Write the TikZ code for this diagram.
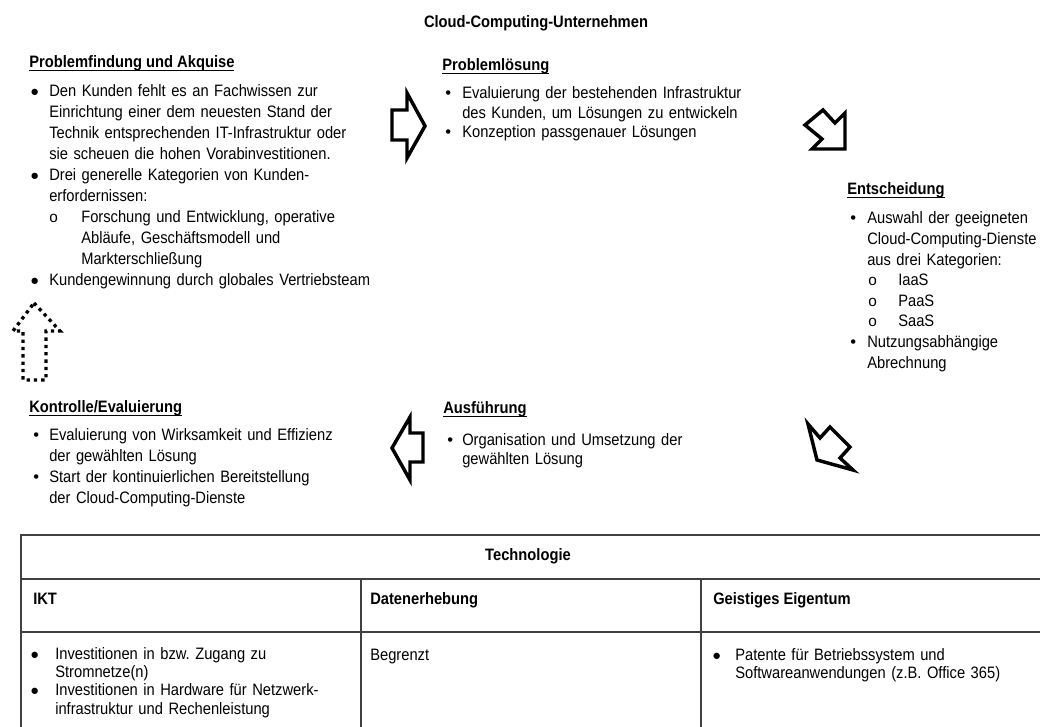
\documentclass[tikz,border=0pt]{standalone}
\usepackage{fontspec}
\setmainfont{Liberation Sans}[FakeStretch=0.89]
\newfontfamily\bulletfont{Liberation Sans}
\frenchspacing

% bullet lead-in: #1 text indent, #2 offset of the bullet, #3 bullet glyph
\newcommand\lstart[3]{\makebox[#1][l]{\hspace*{#2}#3}}
\newcommand\bigdot{{\bulletfont\fontsize{11pt}{11pt}\selectfont ●}}
\newcommand\smalldot{{\bulletfont •}}
\newcommand\ring{{\bulletfont\fontsize{11.5pt}{11pt}\selectfont o}}
% bold heading with a thin underline
\newcommand\ulbf[1]{\setbox0\hbox{\bfseries #1}\rlap{\rule[-2.4pt]{\wd0}{0.8pt}}\box0}

\tikzset{
  x=0.75pt, y=-0.75pt,
  heading/.style={anchor=base west, inner sep=0pt, font=\fontsize{12.4pt}{14pt}\selectfont},
  maintitle/.style={anchor=base, inner sep=0pt, font=\fontsize{12.4pt}{14pt}\selectfont\bfseries},
  colhead/.style={anchor=base west, inner sep=0pt, font=\fontsize{12.4pt}{14pt}\selectfont\bfseries},
  body/.style={anchor=base west, inner sep=0pt, align=left, text width=330pt},
  blockarrow/.style={draw=black, line width=2.6pt, line join=miter, miter limit=10},
  dotarrow/.style={draw=black, line width=2.5pt, dash pattern=on 2.5pt off 3pt},
  tblline/.style={draw=black!75, line width=1.1pt},
}

\begin{document}
\begin{tikzpicture}
\useasboundingbox (0,0) rectangle (1040,727);

% ---------- title ----------
\node[maintitle] (title) at (536,28) {Cloud-Computing-Unternehmen};

% ---------- phase 1 ----------
\node[heading] (h1) at (29,68) {\ulbf{Problemfindung und Akquise}};
\node[body, font=\fontsize{12.4pt}{15.75pt}\selectfont] (b1) at (29,97) {%
\lstart{15pt}{0.75pt}{\bigdot}Den Kunden fehlt es an Fachwissen zur\\
\hspace*{15pt}Einrichtung einer dem neuesten Stand der\\
\hspace*{15pt}Technik entsprechenden IT-Infrastruktur oder\\
\hspace*{15pt}sie scheuen die hohen Vorabinvestitionen.\\
\lstart{15pt}{0.75pt}{\bigdot}Drei generelle Kategorien von Kunden-\\
\hspace*{15pt}erfordernissen:\\
\lstart{39pt}{15pt}{\ring}Forschung und Entwicklung, operative\\
\hspace*{39pt}Abläufe, Geschäftsmodell und\\
\hspace*{39pt}Markterschließung\\
\lstart{15pt}{0.75pt}{\bigdot}Kundengewinnung durch globales Vertriebsteam};

% ---------- phase 2 ----------
\node[heading] (h2) at (442,71) {\ulbf{Problemlösung}};
\node[body, font=\fontsize{12.4pt}{14.6pt}\selectfont] (b2) at (442,99) {%
\lstart{15pt}{2.25pt}{\smalldot}Evaluierung der bestehenden Infrastruktur\\
\hspace*{15pt}des Kunden, um Lösungen zu entwickeln\\
\lstart{15pt}{2.25pt}{\smalldot}Konzeption passgenauer Lösungen};

% ---------- phase 3 ----------
\node[heading] (h3) at (847,195) {\ulbf{Entscheidung}};
\node[body, font=\fontsize{12.4pt}{15.45pt}\selectfont] (b3) at (847,224) {%
\lstart{15pt}{2.25pt}{\smalldot}Auswahl der geeigneten\\
\hspace*{15pt}Cloud-Computing-Dienste\\
\hspace*{15pt}aus drei Kategorien:\\
\lstart{38.25pt}{15.75pt}{\ring}IaaS\\
\lstart{38.25pt}{15.75pt}{\ring}PaaS\\
\lstart{38.25pt}{15.75pt}{\ring}SaaS\\
\lstart{15pt}{2.25pt}{\smalldot}Nutzungsabhängige\\
\hspace*{15pt}Abrechnung};

% ---------- phase 4 ----------
\node[heading] (h4) at (443,414) {\ulbf{Ausführung}};
\node[body, font=\fontsize{12.4pt}{13.5pt}\selectfont] (b4) at (443,446) {%
\lstart{14.25pt}{3pt}{\smalldot}Organisation und Umsetzung der\\
\hspace*{14.25pt}gewählten Lösung};

% ---------- phase 5 ----------
\node[heading] (h5) at (29,413) {\ulbf{Kontrolle/Evaluierung}};
\node[body, font=\fontsize{12.4pt}{15.6pt}\selectfont] (b5) at (29,441) {%
\lstart{15pt}{3pt}{\smalldot}Evaluierung von Wirksamkeit und Effizienz\\
\hspace*{15pt}der gewählten Lösung\\
\lstart{15pt}{3pt}{\smalldot}Start der kontinuierlichen Bereitstellung\\
\hspace*{15pt}der Cloud-Computing-Dienste};

% ---------- cycle arrows ----------
\draw[blockarrow] (392,110) -- (407,110) -- (407,93) -- (425,126) -- (407,158)
  -- (407,140) -- (392,140) -- cycle;
\draw[blockarrow] (845,149) -- (845,113) -- (835,123) -- (823,110) -- (805,125)
  -- (822,139) -- (812,149) -- cycle;
\draw[blockarrow] (817,460) -- (808,424) -- (820,438) -- (830,427) -- (850,447)
  -- (840,458) -- (853,470) -- cycle;
\draw[blockarrow] (392,448) -- (410,417) -- (410,433) -- (423,433) -- (423,462)
  -- (410,462) -- (410,480) -- cycle;
\draw[dotarrow] (34,303) -- (60,331) -- (46,331) -- (46,380) -- (23,380)
  -- (23,331) -- (13,331) -- cycle;

% ---------- technology table ----------
\draw[tblline] (1040,535) -- (21,535) -- (21,727);
\draw[tblline] (21,579) -- (1040,579);
\draw[tblline] (21,632) -- (1040,632);
\draw[tblline] (361,579) -- (361,727);
\draw[tblline] (701,579) -- (701,727);

\node[maintitle] (tech) at (528,561) {Technologie};
\node[colhead] (c1) at (33,604) {IKT};
\node[colhead] (c2) at (370,604) {Datenerhebung};
\node[colhead] (c3) at (713,604) {Geistiges Eigentum};

\node[body, font=\fontsize{12.4pt}{13.75pt}\selectfont] (t1) at (30,659) {%
\lstart{18.75pt}{0pt}{\bigdot}Investitionen in bzw. Zugang zu\\
\hspace*{18.75pt}Stromnetze(n)\\
\lstart{18.75pt}{0pt}{\bigdot}Investitionen in Hardware für Netzwerk-\\
\hspace*{18.75pt}infrastruktur und Rechenleistung};
\node[body, font=\fontsize{12.4pt}{13.75pt}\selectfont] (t2) at (370,660) {Begrenzt};
\node[body, font=\fontsize{12.4pt}{13.75pt}\selectfont] (t3) at (712,660) {%
\lstart{17.25pt}{0pt}{\bigdot}Patente für Betriebssystem und\\
\hspace*{17.25pt}Softwareanwendungen (z.B. Office 365)};
\end{tikzpicture}
\end{document}
